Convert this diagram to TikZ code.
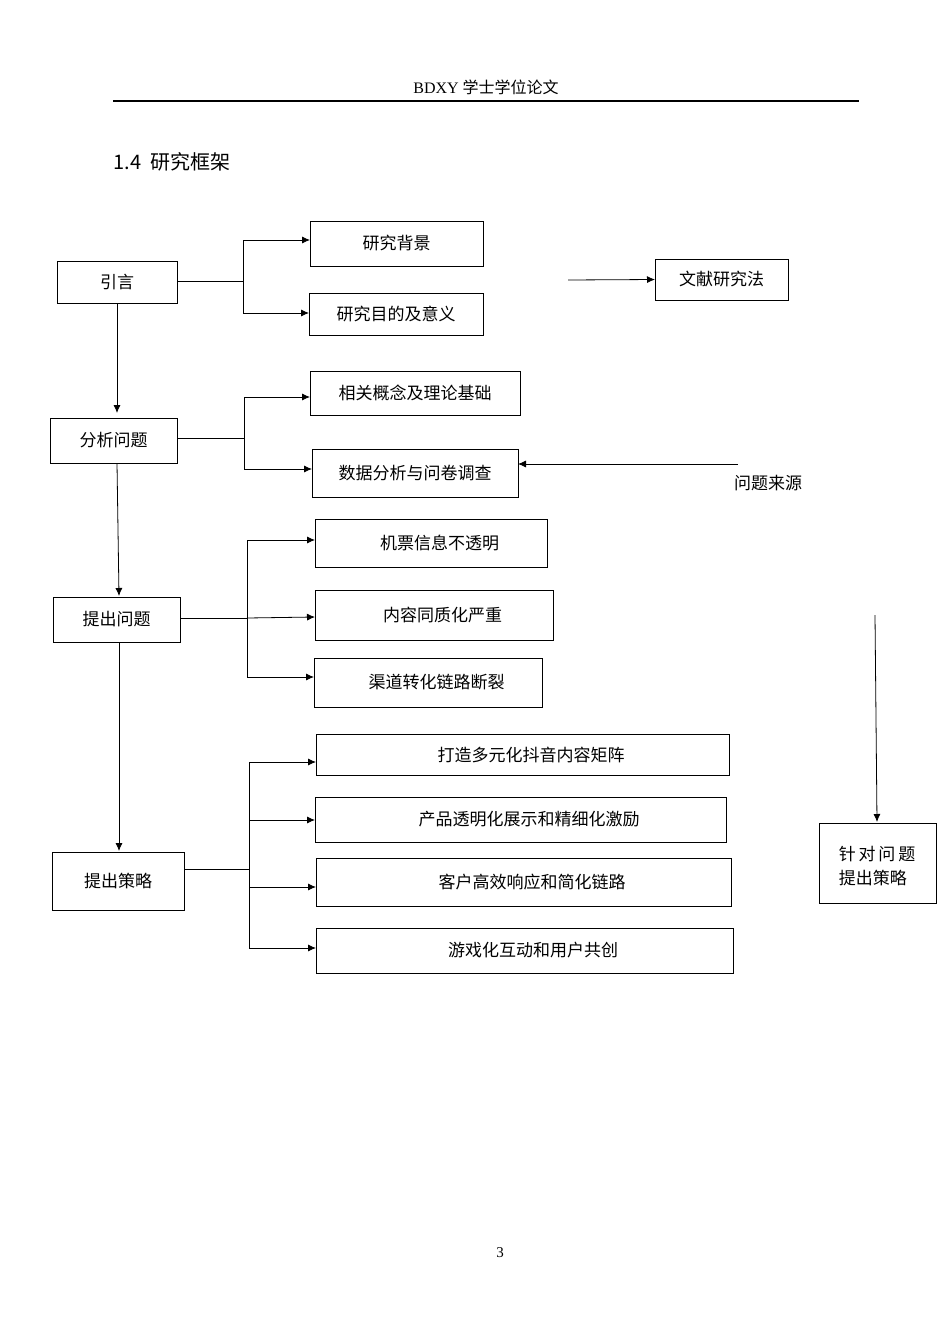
\documentclass[tikz,border=0pt]{standalone}
\usepackage{fontspec}
\setmainfont{Liberation Serif}
\newfontfamily\cjk{Noto Sans CJK SC}
\newfontfamily\cjksans{Noto Sans CJK SC}
\usetikzlibrary{arrows.meta}
\tikzset{
  box/.style={draw, thick, font=\cjk\fontsize{17}{20}\selectfont},
  link/.style={thick, -{Latex[length=8pt,width=7pt]}},
  plain/.style={thick}
}
\newcommand{\bx}[6]{% name, x1,y1,x2,y2, text
  \draw[box] (#2,#3) rectangle (#4,#5);
  \node[font=\cjk\fontsize{17}{20}\selectfont] (#1) at ({(#2+#4)/2},{(#3+#5)/2}) {#6};
  \coordinate (#1-w) at (#2,{(#3+#5)/2});
}
\begin{document}
\begin{tikzpicture}[x=1pt,y=-1pt]
  \useasboundingbox[fill=white] (0,0) rectangle (950,1344);
  % header
  \node[font=\fontsize{16}{18}\selectfont] (head) at (486,87) {BDXY {\cjk 学士学位论文}};
  \draw[line width=2pt] (113,101) -- (859,101);
  \node[anchor=west, font=\cjksans\fontsize{20}{24}\selectfont] (title) at (110,162) {1.4\ \ 研究框架};
  \node[font=\fontsize{15}{18}\selectfont] (page) at (500,1253) {3};

  % boxes
  \bx{yy}{57}{261}{177}{303}{引言}
  \bx{bj}{310}{221}{483}{266}{研究背景}
  \bx{md}{309}{293}{483}{335}{研究目的及意义}
  \bx{wx}{655}{259}{788}{300}{文献研究法}
  \bx{fx}{50}{418}{177}{463}{分析问题}
  \bx{gn}{310}{371}{520}{415}{相关概念及理论基础}
  \bx{sj}{312}{449}{518}{497}{数据分析与问卷调查}
  \bx{tc}{53}{597}{180}{642}{提出问题}
  \bx{jp}{315}{519}{547}{567}{\quad 机票信息不透明}
  \bx{nr}{315}{590}{553}{640}{\quad 内容同质化严重}
  \bx{qd}{314}{658}{542}{707}{\quad 渠道转化链路断裂}
  \bx{cl}{52}{852}{184}{910}{提出策略}
  \bx{dz}{316}{734}{729}{775}{\quad 打造多元化抖音内容矩阵}
  \bx{cp}{315}{797}{726}{842}{\quad 产品透明化展示和精细化激励}
  \bx{kh}{316}{858}{731}{906}{\quad 客户高效响应和简化链路}
  \bx{yx}{316}{928}{733}{973}{\quad 游戏化互动和用户共创}
  \draw[box] (819,823) rectangle (936,903);
  \node[font=\cjk\fontsize{17}{20}\selectfont, align=left] (zd) at (877,866) {针\,对\,问\,题\\[4pt]提出策略};
  \node[font=\cjksans\fontsize{17}{20}\selectfont] (ly) at (768,483) {问题来源};
  \coordinate (wxs) at (568,280);
  \coordinate (lys) at (738,464);
  \coordinate (zds) at (875,615);
  \coordinate (zde) at (877,822);

  % branches
  \draw[plain] (177,281) -- (243,281) (243,240) -- (243,313);
  \draw[link] (243,240) -- (bj-w |- 0,240);
  \draw[link] (243,313) -- (md-w |- 0,313);
  \draw[plain] (177,438) -- (244,438) (244,397) -- (244,469);
  \draw[link] (244,397) -- (gn-w |- 0,397);
  \draw[link] (244,469) -- (sj-w |- 0,469);
  \draw[plain] (180,618) -- (247,618) (247,540) -- (247,677);
  \draw[link] (247,540) -- (jp-w |- 0,540);
  \draw[link] (247,618) -- (nr-w |- 0,617);
  \draw[link] (247,677) -- (qd-w |- 0,677);
  \draw[plain] (184,869) -- (249,869) (249,762) -- (249,948);
  \draw[link] (249,762) -- (dz-w |- 0,762);
  \draw[link] (249,820) -- (cp-w |- 0,820);
  \draw[link] (249,887) -- (kh-w |- 0,887);
  \draw[link] (249,948) -- (yx-w |- 0,948);

  % main flow
  \draw[link] (117,303) -- (117,413);
  \draw[link] (117,463) -- (119,596);
  \draw[link] (119,642) -- (119,851);
  \draw[link] (wxs) -- (wx-w);
  \draw[link] (lys) -- (518,464);
  \draw[link] (zds) -- (zde);
\end{tikzpicture}
\end{document}
